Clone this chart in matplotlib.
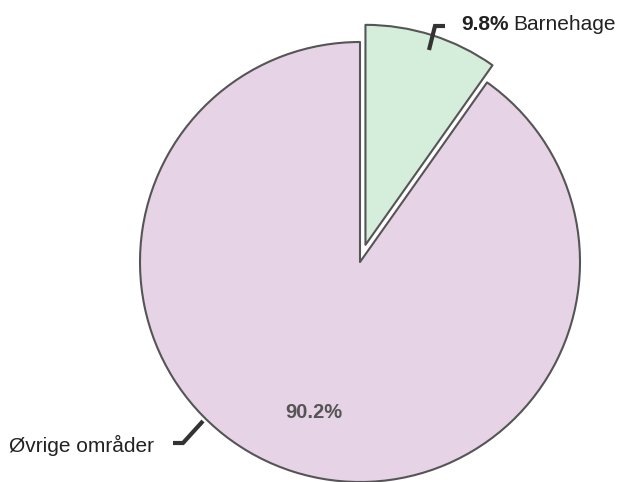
import matplotlib.pyplot as plt

plt.rcParams['font.family'] = ['Liberation Sans', 'DejaVu Sans']

labels = ["Barnehage", "Øvrige områder"]
shares = [9.8, 90.2]
colors = ["#d5eedc", "#e6d4e6"]
explode = [18, 0]  # pie offsets in data units (pixels here)

W, H = 619, 482
fig = plt.figure(figsize=(W / 100, H / 100), dpi=100)
ax = fig.add_axes([0, 0, 1, 1])

cx, cy, r = 360, H - 262, 220
ax.pie(shares, colors=colors, explode=explode, startangle=90, counterclock=False,
       center=(cx, cy), radius=r, frame=True,
       wedgeprops=dict(edgecolor="#555555", linewidth=1.5, joinstyle="round"))
ax.set_xlim(0, W)
ax.set_ylim(0, H)
ax.axis("off")

# leader lines
ax.plot([429, 435, 445], [H - 50, H - 26, H - 26], color="#333333", lw=3,
        solid_joinstyle="miter", solid_capstyle="butt")
ax.plot([203, 183, 173], [H - 421, H - 443, H - 443], color="#333333", lw=3,
        solid_joinstyle="miter", solid_capstyle="butt")

t = ax.text(461, H - 24, f"{shares[0]}%", fontsize=15, fontweight="bold",
            color="#222222", va="center", ha="left")
fig.canvas.draw()
bb = t.get_window_extent()
ax.text(bb.x1 + 5, H - 24, labels[0], fontsize=15, color="#222222",
        va="center", ha="left")

ax.text(154, H - 445, labels[1], fontsize=15, color="#222222",
        va="center", ha="right")
ax.text(314, H - 412, f"{shares[1]}%", fontsize=14.5, fontweight="bold",
        color="#555555", va="center", ha="center")

fig.savefig("out.png", dpi=100)
